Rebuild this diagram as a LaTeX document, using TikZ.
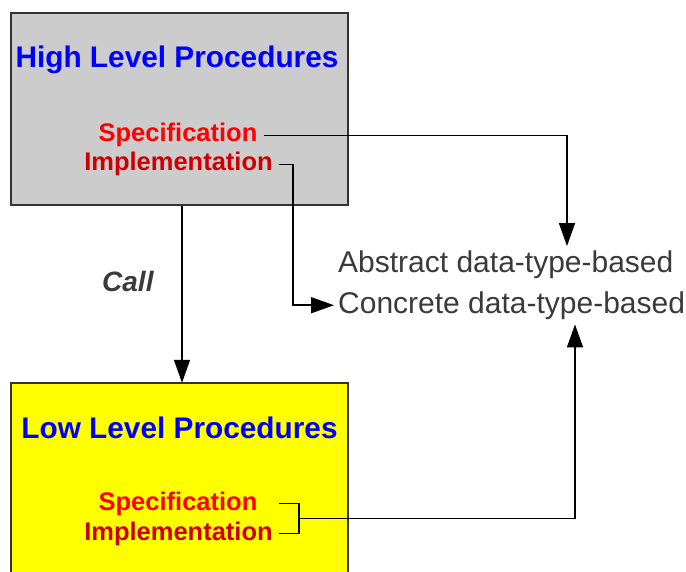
\documentclass[tikz,border=0pt]{standalone}
\usepackage{fontspec}
\setmainfont{Liberation Sans}
\usetikzlibrary{arrows.meta,calc}
\definecolor{boxgray}{HTML}{CCCCCC}
\definecolor{boxyellow}{HTML}{FFFF00}
\definecolor{edgegray}{HTML}{333333}
\definecolor{headblue}{HTML}{0000FF}
\definecolor{specred}{HTML}{FF0000}
\definecolor{implred}{HTML}{CC0000}
\definecolor{plaintext}{HTML}{3A3A3A}
\tikzset{
  procbox/.style={inner sep=0pt, line width=2pt, draw=edgegray},
  headtext/.style={inner sep=0pt, anchor=base, text=headblue, font=\fontsize{29.8}{34}\selectfont\bfseries},
  spectext/.style={inner xsep=6pt, inner ysep=0pt, anchor=base, text=specred, font=\fontsize{25.5}{30}\selectfont\bfseries},
  impltext/.style={inner xsep=6pt, inner ysep=0pt, anchor=base, text=implred, font=\fontsize{25.5}{30}\selectfont\bfseries},
  kindtext/.style={inner xsep=4pt, inner ysep=5pt, anchor=base west, text=plaintext, font=\fontsize{30}{34}\selectfont},
  calltext/.style={inner sep=0pt, anchor=base west, text=plaintext, font=\fontsize{28}{33}\selectfont\bfseries\itshape},
  conn/.style={line width=1.5pt, black},
  arr/.style={conn, -{Triangle[length=23pt,width=16pt]}}
}
\begin{document}
\begin{tikzpicture}[x=1pt,y=-1pt]
\useasboundingbox (0,0) rectangle (686,572);
% high level box
\node[procbox, fill=boxgray, minimum width=337pt, minimum height=192pt] (high) at (179.5,109) {};
\node[headtext] (htitle) at (177,68) {High Level Procedures};
\node[spectext] (hspec) at (178,142) {Specification};
\node[impltext] (himpl) at (178.5,171) {Implementation};
% low level box (runs off the bottom)
\node[inner sep=0pt, fill=boxyellow, minimum width=337pt, minimum height=189pt] (low) at (179.5,477.5) {};
\draw[line width=2pt, draw=edgegray] (low.south west) -- (low.north west) -- (low.north east) -- (low.south east);
\node[headtext] (ltitle) at (179.5,438) {Low Level Procedures};
\node[spectext] (lspec) at (178,510) {Specification};
\node[impltext] (limpl) at (178.5,540) {Implementation};
% right side labels
\node[kindtext] (abs) at (334,273) {Abstract data-type-based};
\node[kindtext] (conc) at (334,313) {Concrete data-type-based};
% call
\node[calltext] (call) at (102,292) {Call};
\draw[arr] ([xshift=2.5pt]high.south) -- ([xshift=2.5pt]low.north);
% high spec -> abstract
\draw[arr] (hspec.east) -| ($(abs.north west)+(233,0)$);
% high impl -> concrete
\draw[conn] (himpl.east) -- ++(14,0) coordinate (hbend);
\draw[arr] (hbend) |- (conc.west);
% low bracket -> concrete
\draw[conn] (lspec.east -| limpl.east) -- ++(20,0) coordinate (brtop) |- (limpl.east);
\coordinate (brmid) at ($(brtop)!0.5!(brtop |- limpl.east)$);
\draw[arr] (brmid) -| ($(conc.south west)+(241,0)$);
\end{tikzpicture}
\end{document}
